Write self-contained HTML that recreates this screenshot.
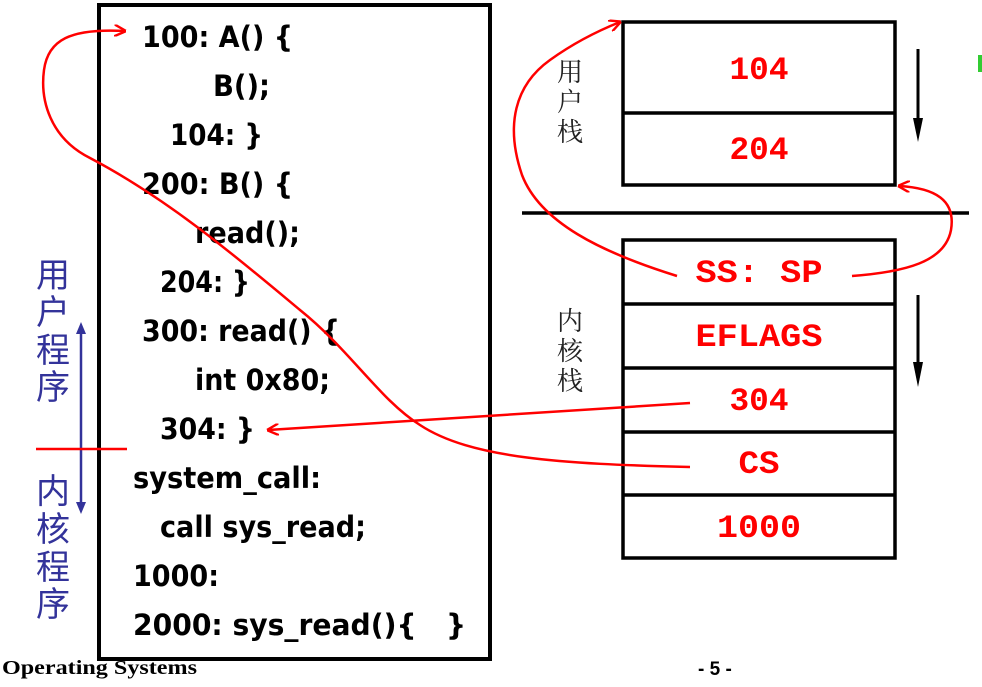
<!DOCTYPE html>
<html><head><meta charset="utf-8"><style>
html,body{margin:0;padding:0;background:#fff;width:982px;height:687px;overflow:hidden}
.code{font-family:"DejaVu Sans",sans-serif;font-weight:bold;font-size:29px;fill:#000}
.mono{font-family:"Liberation Mono",monospace;font-weight:bold;font-size:32px;fill:#f00}
.cjkb{font-family:"Noto Sans CJK SC",sans-serif;font-size:34px;fill:#33339a}
.cjks{font-family:"Noto Serif CJK SC",serif;font-size:26px;fill:#222}
.foot{font-family:"Liberation Serif",serif;font-weight:bold;font-size:20px;fill:#000}
.pg{font-family:"Liberation Sans",sans-serif;font-weight:bold;font-size:19px;fill:#000}
</style></head><body>
<svg width="982" height="687" viewBox="0 0 982 687" xmlns="http://www.w3.org/2000/svg">
<defs>
<marker id="ar" markerWidth="12" markerHeight="12" refX="9" refY="5" orient="auto" markerUnits="userSpaceOnUse" viewBox="0 0 10 10">
<path d="M0,0 L10,5 L0,10" fill="none" stroke="#f00" stroke-width="2"/></marker>
</defs>
<rect x="99" y="5" width="391" height="654" fill="none" stroke="#000" stroke-width="4"/>
<g class="code">
<text class="code" x="142" y="47" textLength="151" lengthAdjust="spacingAndGlyphs">100: A() {</text>
<text class="code" x="213" y="96" textLength="57" lengthAdjust="spacingAndGlyphs">B();</text>
<text class="code" x="170" y="145" textLength="93" lengthAdjust="spacingAndGlyphs">104: }</text>
<text class="code" x="142" y="194" textLength="151" lengthAdjust="spacingAndGlyphs">200: B() {</text>
<text class="code" x="195" y="243" textLength="105" lengthAdjust="spacingAndGlyphs">read();</text>
<text class="code" x="160" y="292" textLength="90" lengthAdjust="spacingAndGlyphs">204: }</text>
<text class="code" x="142" y="341" textLength="198" lengthAdjust="spacingAndGlyphs">300: read() {</text>
<text class="code" x="195" y="390" textLength="135" lengthAdjust="spacingAndGlyphs">int 0x80;</text>
<text class="code" x="160" y="439" textLength="95" lengthAdjust="spacingAndGlyphs">304: }</text>
<text class="code" x="133" y="488" textLength="188" lengthAdjust="spacingAndGlyphs">system_call:</text>
<text class="code" x="160" y="537" textLength="206" lengthAdjust="spacingAndGlyphs">call sys_read;</text>
<text class="code" x="133" y="586" textLength="86" lengthAdjust="spacingAndGlyphs">1000:</text>
<text class="code" x="133" y="635" textLength="333" lengthAdjust="spacingAndGlyphs">2000: sys_read(){ &#160;&#160;}</text>
</g>
<text class="cjkb" x="36" y="287">用</text>
<text class="cjkb" x="36" y="324">户</text>
<text class="cjkb" x="36" y="362">程</text>
<text class="cjkb" x="36" y="399">序</text>
<text class="cjkb" x="36" y="503">内</text>
<text class="cjkb" x="36" y="541">核</text>
<text class="cjkb" x="36" y="579">程</text>
<text class="cjkb" x="36" y="616">序</text>
<line x1="81" y1="330" x2="81" y2="506" stroke="#33339a" stroke-width="2.5"/>
<path d="M76,334 L81,322 L86,334 Z M76,502 L81,514 L86,502 Z" fill="#33339a"/>
<line x1="36" y1="449" x2="127" y2="449" stroke="#f00" stroke-width="2.5"/>
<rect x="623" y="22" width="272" height="163" fill="none" stroke="#000" stroke-width="3.5"/>
<line x1="623" y1="113" x2="895" y2="113" stroke="#000" stroke-width="3.5"/>
<rect x="623" y="240" width="272" height="318" fill="none" stroke="#000" stroke-width="3.5"/>
<g stroke="#000" stroke-width="3.5">
<line x1="623" y1="304" x2="895" y2="304"/>
<line x1="623" y1="368" x2="895" y2="368"/>
<line x1="623" y1="432" x2="895" y2="432"/>
<line x1="623" y1="495" x2="895" y2="495"/>
</g>
<line x1="522" y1="213" x2="969" y2="213" stroke="#000" stroke-width="3.5"/>
<g text-anchor="middle">
<text class="mono" x="759" y="79" textLength="59" lengthAdjust="spacingAndGlyphs">104</text>
<text class="mono" x="759" y="159" textLength="59" lengthAdjust="spacingAndGlyphs">204</text>
<text class="mono" x="759" y="282" textLength="127" lengthAdjust="spacingAndGlyphs">SS: SP</text>
<text class="mono" x="759" y="346" textLength="127" lengthAdjust="spacingAndGlyphs">EFLAGS</text>
<text class="mono" x="759" y="410" textLength="59" lengthAdjust="spacingAndGlyphs">304</text>
<text class="mono" x="759" y="473" textLength="41" lengthAdjust="spacingAndGlyphs">CS</text>
<text class="mono" x="759" y="537" textLength="84" lengthAdjust="spacingAndGlyphs">1000</text>
</g>
<text class="cjks" x="557" y="81">用</text>
<text class="cjks" x="557" y="111">户</text>
<text class="cjks" x="557" y="141">栈</text>
<text class="cjks" x="557" y="330">内</text>
<text class="cjks" x="557" y="360">核</text>
<text class="cjks" x="557" y="390">栈</text>
<line x1="918" y1="49" x2="918" y2="122" stroke="#000" stroke-width="3"/>
<path d="M913,118 L918,142 L923,118 Z" fill="#000"/>
<line x1="918" y1="295" x2="918" y2="366" stroke="#000" stroke-width="3"/>
<path d="M913,362 L918,387 L923,362 Z" fill="#000"/>
<rect x="978" y="55" width="4" height="17" fill="#3c3"/>
<g fill="none" stroke="#f00" stroke-width="2.5">
<path d="M690,467 C560,464 470,458 420,425 C380,400 350,350 300,310 C240,260 170,200 90,158 C50,138 40,100 44,70 C48,40 70,28 125,31" marker-end="url(#ar)"/>
<path d="M690,403 L268,430" marker-end="url(#ar)"/>
<path d="M677,276 C600,252 540,222 522,175 C505,125 515,85 550,60 C575,42 600,30 620,22" marker-end="url(#ar)"/>
<path d="M852,276 C905,272 945,262 951,230 C956,200 935,188 899,186" marker-end="url(#ar)"/>
</g>
<text class="foot" x="2" y="674" textLength="195" lengthAdjust="spacingAndGlyphs">Operating Systems</text>
<text class="pg" x="698" y="675">- 5 -</text>
</svg>
</body></html>
